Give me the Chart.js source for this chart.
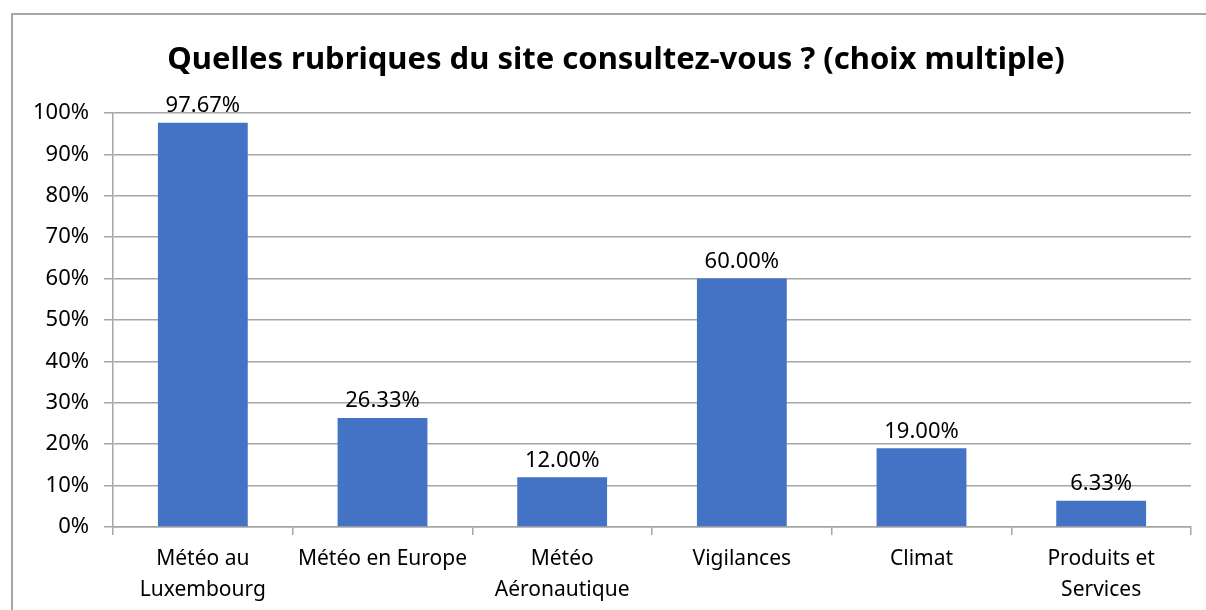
<!DOCTYPE html>
<html>
<head>
<meta charset="utf-8">
<script src="https://cdn.jsdelivr.net/npm/chart.js"></script>
<style>
  html, body { margin: 0; padding: 0; background: #fff; overflow: hidden; }
  #frame { position: absolute; left: 11px; top: 13px; width: 1240px; height: 640px;
           border-left: 2px solid #a6a6a6; border-top: 2px solid #a6a6a6; }
  #wrap { position: absolute; left: 0; top: 0; width: 1206px; height: 610px; }
</style>
</head>
<body>
<div id="frame"></div>
<div id="wrap"><canvas id="bars"></canvas></div>
<script>
var chartTitle = "Quelles rubriques du site consultez-vous ? (choix multiple)";
var categories = [["Météo au", "Luxembourg"], "Météo en Europe", ["Météo", "Aéronautique"], "Vigilances", "Climat", ["Produits et", "Services"]];
var percents = [97.67, 26.33, 12.00, 60.00, 19.00, 6.33];
var yTicks = [0, 10, 20, 30, 40, 50, 60, 70, 80, 90, 100];

var FONT = "'Noto Sans', sans-serif";
var GRID = "#a6a6a6";

// labels above each bar + title centred on the chart frame (not the canvas)
var barLabels = {
  id: "barLabels",
  afterDatasetsDraw: function (chart) {
    var c = chart.ctx;
    var meta = chart.getDatasetMeta(0);
    c.save();
    c.font = "22px " + FONT;
    c.fillStyle = "#000";
    c.textAlign = "center";
    c.textBaseline = "bottom";
    meta.data.forEach(function (bar, i) {
      c.fillText(percents[i].toFixed(2) + "%", bar.x, bar.y - 6);
    });
    c.font = "bold 31px " + FONT;
    c.textBaseline = "middle";
    c.fillText(chartTitle, 616, 60);
    c.restore();
  }
};

var ctx = document.getElementById("bars").getContext("2d");
var myChart = new Chart(ctx, {
  type: "bar",
  data: {
    labels: categories,
    datasets: [
      {
        label: "Rubriques",
        data: percents,
        backgroundColor: "#4472c4",
        borderWidth: 0,
        barPercentage: 0.5,
        categoryPercentage: 1.0,
      },
    ],
  },
  options: {
    responsive: true,
    maintainAspectRatio: false,
    animation: false,
    layout: { padding: { left: 0, right: 15, top: 113, bottom: 0 } },
    plugins: {
      legend: { display: false },
      tooltip: { enabled: false },
      title: { display: false },
    },
    scales: {
      x: {
        grid: { display: true, drawOnChartArea: false, drawTicks: true, tickLength: 8, color: GRID, lineWidth: 1.5 },
        border: { display: true, color: GRID, width: 1.5 },
        ticks: { color: "#000", font: { family: FONT, size: 21, lineHeight: 1.48 }, maxRotation: 0, padding: 8 },
        afterFit: function (s) { s.height = 83; },
      },
      y: {
        min: 0,
        max: 100,
        afterBuildTicks: function (s) { s.ticks = yTicks.map(function (v) { return { value: v }; }); },
        grid: { color: GRID, lineWidth: 1.5, tickLength: 9 },
        border: { display: true, color: GRID, width: 1.5 },
        ticks: {
          color: "#000",
          font: { family: FONT, size: 22 },
          padding: 15,
          callback: function (v) { return v + "%"; },
        },
        afterFit: function (s) { s.width = 113; },
      },
    },
  },
  plugins: [barLabels],
});
</script>
</body>
</html>
